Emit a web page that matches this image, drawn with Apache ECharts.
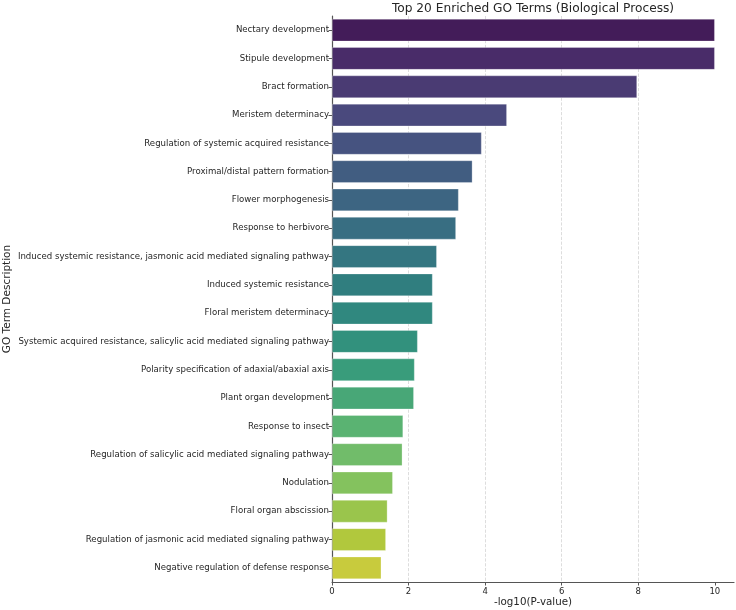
<!DOCTYPE html>
<html>
<head>
<meta charset="utf-8">
<script src="https://cdn.jsdelivr.net/npm/echarts@6/dist/echarts.min.js"></script>
<style>
  html, body { margin: 0; padding: 0; background: #fff; }
  #chart { width: 736px; height: 610px; }
</style>
</head>
<body>
<div id="chart"></div>
<script>
  // GO terms, top to bottom as drawn
  var terms = [
    'Nectary development',
    'Stipule development',
    'Bract formation',
    'Meristem determinacy',
    'Regulation of systemic acquired resistance',
    'Proximal/distal pattern formation',
    'Flower morphogenesis',
    'Response to herbivore',
    'Induced systemic resistance, jasmonic acid mediated signaling pathway',
    'Induced systemic resistance',
    'Floral meristem determinacy',
    'Systemic acquired resistance, salicylic acid mediated signaling pathway',
    'Polarity specification of adaxial/abaxial axis',
    'Plant organ development',
    'Response to insect',
    'Regulation of salicylic acid mediated signaling pathway',
    'Nodulation',
    'Floral organ abscission',
    'Regulation of jasmonic acid mediated signaling pathway',
    'Negative regulation of defense response'
  ]
  var logP = [10, 10, 7.97, 4.57, 3.91, 3.67, 3.31, 3.24, 2.74, 2.63,
    2.63, 2.24, 2.16, 2.14, 1.86, 1.84, 1.59, 1.45, 1.41, 1.29]
  var xTicks = [0, 2, 4, 6, 8, 10]

  // viridis stops, sampled like seaborn (n+2 bins, ends dropped) and desaturated to 0.75
  var viridis = ['#440154', '#482475', '#414487', '#355f8d', '#2a788e', '#21918c',
    '#22a884', '#44bf70', '#7ad151', '#bddf26', '#fde725']
  function hex2rgb (h) {
    return [parseInt(h.substr(1, 2), 16) / 255, parseInt(h.substr(3, 2), 16) / 255, parseInt(h.substr(5, 2), 16) / 255]
  }
  function sampleViridis (t) {
    var p = t * (viridis.length - 1)
    var i = Math.min(Math.floor(p), viridis.length - 2)
    var f = p - i
    var a = hex2rgb(viridis[i]), b = hex2rgb(viridis[i + 1])
    return [0, 1, 2].map(function (k) { return a[k] + (b[k] - a[k]) * f })
  }
  function desaturate (rgb, prop) {
    var r = rgb[0], g = rgb[1], b = rgb[2]
    var mx = Math.max(r, g, b), mn = Math.min(r, g, b)
    var l = (mx + mn) / 2, s = 0, h = 0
    if (mx !== mn) {
      var d = mx - mn
      s = l > 0.5 ? d / (2 - mx - mn) : d / (mx + mn)
      if (mx === r) h = ((g - b) / d + (g < b ? 6 : 0)) / 6
      else if (mx === g) h = ((b - r) / d + 2) / 6
      else h = ((r - g) / d + 4) / 6
    }
    s *= prop
    function hue (p, q, t) {
      if (t < 0) t += 1
      if (t > 1) t -= 1
      if (t < 1 / 6) return p + (q - p) * 6 * t
      if (t < 1 / 2) return q
      if (t < 2 / 3) return p + (q - p) * (2 / 3 - t) * 6
      return p
    }
    var q = l < 0.5 ? l * (1 + s) : l + s - l * s
    var p = 2 * l - q
    var out = s === 0 ? [l, l, l] : [hue(p, q, h + 1 / 3), hue(p, q, h), hue(p, q, h - 1 / 3)]
    return 'rgb(' + out.map(function (v) { return Math.round(v * 255) }).join(',') + ')'
  }
  var n = terms.length
  var colors = terms.map(function (t, i) {
    return desaturate(sampleViridis((i + 1) / (n + 1)), 0.75)
  })

  var chart = echarts.init(document.getElementById('chart'))
  var font = 'DejaVu Sans'
  var option = {
    animation: false,
    backgroundColor: '#ffffff',
    title: {
      text: 'Top 20 Enriched GO Terms (Biological Process)',
      left: 533,
      textAlign: 'center',
      top: 0,
      padding: [3, 0, 0, 0],
      textStyle: { fontFamily: font, fontSize: 12.2, fontWeight: 'normal', color: '#262626' }
    },
    grid: { left: 332, right: 2, top: 16, bottom: 28, containLabel: false, outerBoundsMode: 'none' },
    xAxis: {
      type: 'value',
      min: 0,
      max: 10.5,
      interval: 2,
      name: '-log10(P-value)',
      nameLocation: 'middle',
      nameGap: 15,
      nameMoveOverlap: false,
      nameTextStyle: { fontFamily: font, fontSize: 10.3, color: '#262626' },
      axisLine: { show: true, lineStyle: { color: '#555', width: 1.2 } },
      axisTick: { show: true, length: 3.5, lineStyle: { color: '#555' }, customValues: xTicks },
      axisLabel: { fontFamily: font, fontSize: 8.5, color: '#262626', margin: 5, customValues: xTicks },
      splitLine: { show: true, showMinLine: false, showMaxLine: false, lineStyle: { color: '#d4d4d4', type: 'dashed', width: 0.8 } }
    },
    yAxis: {
      type: 'category',
      inverse: true,
      data: terms,
      name: 'GO Term Description',
      nameLocation: 'middle',
      nameRotate: 90,
      nameGap: 319,
      nameMoveOverlap: false,
      nameTextStyle: { fontFamily: font, fontSize: 10.5, color: '#262626' },
      axisLine: { show: true, lineStyle: { color: '#555', width: 1.2 } },
      axisTick: { show: true, alignWithLabel: true, length: 3.5, lineStyle: { color: '#555' } },
      axisLabel: { fontFamily: font, fontSize: 8.6, color: '#262626', margin: 3 },
      splitLine: { show: false }
    },
    series: [{
      type: 'bar',
      data: logP.map(function (v, i) {
        return { value: v, itemStyle: { color: colors[i] } }
      }),
      barCategoryGap: '20%',
      itemStyle: { borderColor: 'rgba(255,255,255,0.35)', borderWidth: 0.8 }
    }]
  }
  chart.setOption(option)
</script>
</body>
</html>
